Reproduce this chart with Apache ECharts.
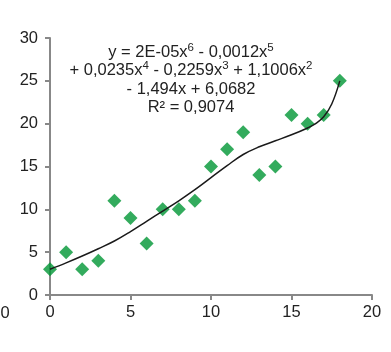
<!DOCTYPE html>
<html>
<head>
<meta charset="utf-8">
<script src="https://cdn.jsdelivr.net/npm/echarts@6/dist/echarts.min.js"></script>
<style>html,body{margin:0;padding:0;background:#fff}#c{width:391px;height:352px}</style>
</head>
<body>
<div id="c"></div>
<script>
const pointX = [0,1,2,3,4,5,6,7,8,9,10,11,12,13,14,15,16,17,18];
const pointY = [3,5,3,4,11,9,6,10,10,11,15,17,19,14,15,21,20,21,25];
const trendX = [0,1,2,3,4,5,6,7,8,9,10,11,12,13,14,15,16,16.5,17,17.5,18];
const trendY = [3.0,3.75,4.55,5.4,6.3,7.4,8.6,9.8,11.0,12.3,13.7,15.1,16.4,17.3,18.0,18.7,19.5,20.0,20.8,22.3,25.0];
const xTicks = [0,5,10,15,20];
const yTicks = [0,5,10,15,20,25,30];
const eqLines = [
  'y = 2E-05x{s|6} - 0,0012x{s|5}',
  '+ 0,0235x{s|4} - 0,2259x{s|3} + 1,1006x{s|2}',
  '- 1,494x + 6,0682',
  'R² = 0,9074'
];
const strayLabel = '0';

const chart = echarts.init(document.getElementById('c'), null, {renderer:'canvas'});
const font = 'Liberation Sans, Arial, sans-serif';
const axisCol = '#888888';
chart.setOption({
  animation:false,
  grid:{left:50,right:19,top:38,bottom:57,containLabel:false},
  xAxis:{type:'value',min:xTicks[0],max:xTicks[xTicks.length-1],interval:5,
    axisLine:{lineStyle:{color:axisCol,width:2}},
    axisTick:{show:true,length:5,lineStyle:{color:axisCol,width:2}},
    splitLine:{show:false},
    axisLabel:{color:'#222',fontSize:16.5,fontFamily:font,margin:9}},
  yAxis:{type:'value',min:yTicks[0],max:yTicks[yTicks.length-1],interval:5,
    axisLine:{show:true,lineStyle:{color:axisCol,width:2}},
    axisTick:{show:true,length:5,lineStyle:{color:axisCol,width:2}},
    splitLine:{show:false},
    axisLabel:{color:'#222',fontSize:16.5,fontFamily:font,margin:12}},
  series:[
    {type:'scatter',data:pointX.map((x,i)=>[x,pointY[i]]),symbol:'diamond',symbolSize:14,
      itemStyle:{color:'#009634'},z:2},
    {type:'line',data:trendX.map((x,i)=>[x,trendY[i]]),smooth:0.4,showSymbol:false,
      lineStyle:{color:'#1a1a1a',width:1.5},z:3}
  ],
  graphic: eqLines.map((t,i)=>({
    type:'text', x:191, y:52+i*18.5,
    style:{text:t, align:'center', verticalAlign:'middle', fontSize:16.5, fontFamily:font, fill:'#222',
      rich:{s:{fontSize:11.5, fontFamily:font, fill:'#222', verticalAlign:'top', padding:[0,0,9,0]}}}
  })).concat([{type:'text',x:5,y:313,style:{text:strayLabel,align:'center',verticalAlign:'middle',fontSize:16.5,fontFamily:font,fill:'#222'}}])
});
</script>
</body>
</html>
